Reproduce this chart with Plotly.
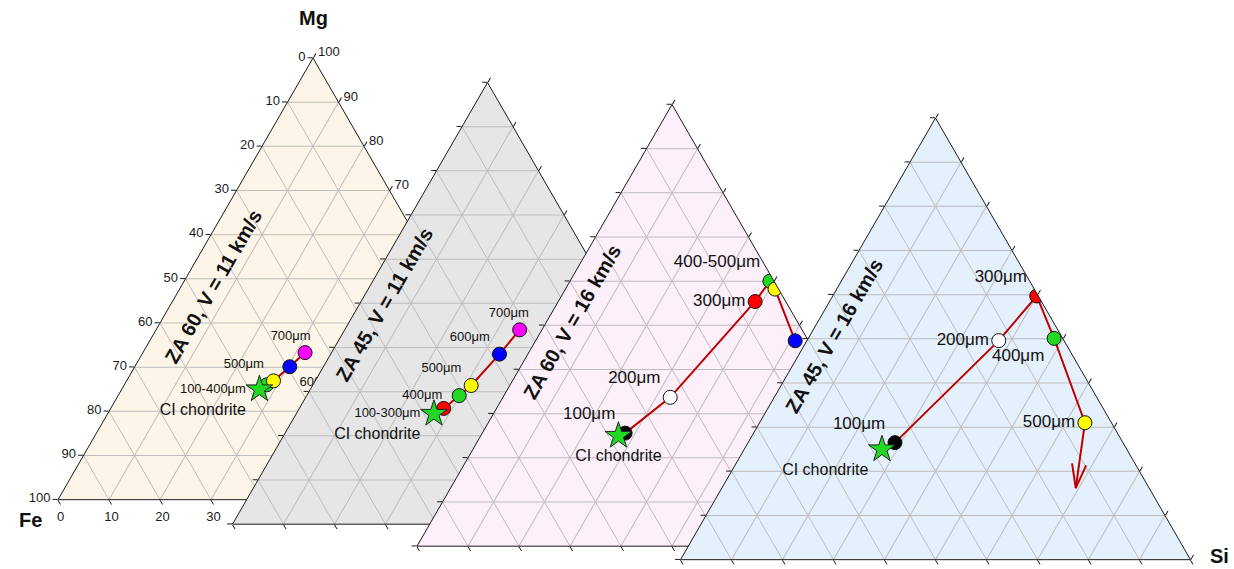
import math
import plotly.graph_objects as go

# ---------------------------------------------------------------- data
# Composition of the melt residue (wt% Mg, Fe, Si) versus particle size
ci_mg, ci_fe, ci_si = 25.0, 48.0, 27.0          # CI chondrite reference

panel_titles = ["ZA 60, V = 11 km/s", "ZA 45, V = 11 km/s",
                "ZA 60, V = 16 km/s", "ZA 45, V = 16 km/s"]

# ZA 60, V = 11 km/s  (100-400 µm particles stay next to CI)
p1_cluster = "100-400μm"
p1_sizes = [400, 500, 600, 700]
p1_labels = ["", "500μm", "600μm", "700μm"]
p1_mg = [26.0, 26.9, 30.1, 33.3]
p1_fe = [46.1, 44.3, 39.5, 34.9]
p1_si = [27.9, 28.8, 30.4, 31.8]

# ZA 45, V = 11 km/s  (100-300 µm particles stay next to CI)
p2_cluster = "100-300μm"
p2_sizes = [300, 400, 500, 600, 700]
p2_labels = ["", "400μm", "500μm", "600μm", "700μm"]
p2_mg = [26.2, 29.1, 31.4, 38.5, 44.0]
p2_fe = [45.5, 41.0, 37.5, 28.4, 21.7]
p2_si = [28.3, 29.9, 31.1, 33.1, 34.3]

# ZA 60, V = 16 km/s
p3_cluster = ""
p3_sizes = [100, 200, 300, 400, 500, 600]
p3_labels = ["100μm", "200μm", "300μm", "400-500μm", "", ""]
p3_mg = [25.6, 33.7, 55.4, 60.0, 58.2, 46.5]
p3_fe = [46.4, 33.5, 6.0, 0.8, 0.7, 2.6]
p3_si = [28.0, 32.8, 38.6, 39.2, 41.1, 50.9]

# ZA 45, V = 16 km/s
p4_cluster = ""
p4_sizes = [100, 200, 300, 400, 500]
p4_labels = ["100μm", "200μm", "300μm", "400μm", "500μm"]
p4_mg = [26.5, 49.6, 59.7, 50.1, 31.0]
p4_fe = [44.7, 12.8, 0.3, 1.7, 5.2]
p4_si = [28.8, 37.6, 40.0, 48.2, 63.8]
p4_trend_mg, p4_trend_fe, p4_trend_si = 16.2, 14.4, 69.4   # trend arrow tip

tick_vals = list(range(0, 101, 10))

# ---------------------------------------------------------------- style
FONT = "Liberation Sans, Arial, Helvetica, sans-serif"
EDGE = "#1a1a1a"
GRID = "#bdbdbd"
PATH_RED = "#c00000"
STAR_GREEN = "#22d822"
size_colors = {100: "#000000", 200: "#ffffff", 300: "#ff0000", 400: "#22d822",
               500: "#ffff00", 600: "#0000ff", 700: "#ff00ff"}
backgrounds = ["#fdf6e8", "#e6e6e6", "#fdf0fa", "#e4f0fb"]
label_sizes = [13, 13, 17, 17]
NB = "\u00a0"

# label placement around each marker
p1_pos = ["middle left", "top left", "bottom right", "top center"]
p2_pos = ["middle left", "middle left", "top left", "top left", "top center"]
p3_pos = ["top left", "top left", "middle left", "top left", "top left", "top left"]
p4_pos = ["top left", "middle left", "top left", "bottom left", "middle left"]
star_pos = ["bottom left", "bottom left", "bottom center", "bottom left"]
label_pad = [{3: 8}, {1: 2, 4: 6}, {}, {}]   # trailing spacing (nbsp count)

# triangle placement in pixels (left, top) on a 1234 x 569 page
W, H = 1234, 569
SIDE = 510.0
HEIGHT = SIDE / (4.0 / 3.0) ** 0.5
anchors = [(58, 58), (232.5, 82.5), (417, 104.5), (680.5, 118)]

# arrow head: length (fraction of the triangle side) and half-angle
HEAD_LEN = 25 / SIDE
HEAD_ANGLE = math.radians(16.5)

panels = [
    dict(sizes=p1_sizes, labels=p1_labels, mg=p1_mg, fe=p1_fe, si=p1_si,
         pos=p1_pos, cluster=p1_cluster),
    dict(sizes=p2_sizes, labels=p2_labels, mg=p2_mg, fe=p2_fe, si=p2_si,
         pos=p2_pos, cluster=p2_cluster),
    dict(sizes=p3_sizes, labels=p3_labels, mg=p3_mg, fe=p3_fe, si=p3_si,
         pos=p3_pos, cluster=p3_cluster),
    dict(sizes=p4_sizes, labels=p4_labels, mg=p4_mg, fe=p4_fe, si=p4_si,
         pos=p4_pos, cluster=p4_cluster),
]

SQ3 = math.sqrt(3)


def to_xy(mg, fe, si):
    s = mg + fe + si
    return si / s + 0.5 * mg / s, SQ3 / 2 * mg / s


def to_ternary(x, y):
    mg = y / (SQ3 / 2)
    si = x - 0.5 * mg
    return 100 * mg, 100 * (1 - mg - si), 100 * si


def arrow_head(tail, tip):
    """Two barbs at `tip`, pointing back towards `tail` (compositions)."""
    tx, ty = to_xy(*tail)
    hx, hy = to_xy(*tip)
    dx, dy = tx - hx, ty - hy
    n = math.hypot(dx, dy)
    dx, dy = dx / n, dy / n
    pts = []
    for sgn in (1, -1):
        c, s = math.cos(sgn * HEAD_ANGLE), math.sin(sgn * HEAD_ANGLE)
        bx = hx + HEAD_LEN * (c * dx - s * dy)
        by = hy + HEAD_LEN * (s * dx + c * dy)
        pts.append(to_ternary(bx, by))
    return [pts[0], tip, pts[1]]


fig = go.Figure()


def ternary_axis(show_labels):
    return dict(
        tickmode="array",
        tickvals=tick_vals,
        ticktext=[str(100 - v) for v in tick_vals],
        showticklabels=show_labels,
        ticks="outside", ticklen=5, tickwidth=1, tickcolor=EDGE,
        tickfont=dict(family=FONT, size=13, color="#1a1a1a"),
        showline=True, linecolor=EDGE, linewidth=1,
        showgrid=True, gridcolor=GRID, gridwidth=1,
        title=dict(text=""),
        min=0,
    )


layout_ternaries = {}
for i, p in enumerate(panels):
    key = "ternary" if i == 0 else f"ternary{i + 1}"
    x0, y0 = anchors[i]
    layout_ternaries[key] = dict(
        sum=100,
        bgcolor=backgrounds[i],
        domain=dict(x=[x0 / W, (x0 + SIDE) / W],
                    y=[1 - (y0 + HEIGHT) / H, 1 - y0 / H]),
        aaxis=ternary_axis(i == 0),   # Mg (top)
        baxis=ternary_axis(i == 0),   # Fe (bottom left)
        caxis=ternary_axis(i == 0),   # Si (bottom right)
    )

    # evolution path with particle size
    fig.add_trace(go.Scatterternary(
        a=p["mg"], b=p["fe"], c=p["si"], subplot=key, mode="lines",
        line=dict(color=PATH_RED, width=2), hoverinfo="skip"))

    if i == 3:
        last = (p["mg"][-1], p["fe"][-1], p["si"][-1])
        tip = (p4_trend_mg, p4_trend_fe, p4_trend_si)
        fig.add_trace(go.Scatterternary(
            a=[last[0], tip[0]], b=[last[1], tip[1]], c=[last[2], tip[2]],
            subplot=key, mode="lines",
            line=dict(color=PATH_RED, width=2), hoverinfo="skip"))
        head = arrow_head(last, tip)
        fig.add_trace(go.Scatterternary(
            a=[q[0] for q in head], b=[q[1] for q in head], c=[q[2] for q in head],
            subplot=key, mode="lines",
            line=dict(color=PATH_RED, width=2), hoverinfo="skip"))

    texts = [lab + NB * label_pad[i].get(k, 0) if lab else ""
             for k, lab in enumerate(p["labels"])]
    fig.add_trace(go.Scatterternary(
        a=p["mg"], b=p["fe"], c=p["si"], subplot=key, mode="markers+text",
        text=texts, textposition=p["pos"],
        textfont=dict(family=FONT, size=label_sizes[i], color="#111111"),
        marker=dict(size=14, color=[size_colors[s] for s in p["sizes"]],
                    line=dict(color="#111111", width=1)),
        hoverinfo="skip"))

    # size range whose compositions coincide with CI
    if p["cluster"]:
        fig.add_trace(go.Scatterternary(
            a=[ci_mg], b=[ci_fe], c=[ci_si], subplot=key, mode="markers+text",
            text=[p["cluster"]], textposition="middle left",
            textfont=dict(family=FONT, size=label_sizes[i], color="#111111"),
            marker=dict(size=20, opacity=0), hoverinfo="skip"))

    fig.add_trace(go.Scatterternary(
        a=[ci_mg], b=[ci_fe], c=[ci_si], subplot=key, mode="markers+text",
        text=["CI chondrite"], textposition=star_pos[i],
        textfont=dict(family=FONT, size=16, color="#111111"),
        marker=dict(symbol="star", size=20, color=STAR_GREEN,
                    line=dict(color="#222222", width=1)),
        hoverinfo="skip"))

# rotated panel captions along the left edges
caption_centers = [(213, 287), (384, 305), (572, 322), (834, 336)]
annotations = []
for (cx, cy), title in zip(caption_centers, panel_titles):
    annotations.append(dict(
        x=cx / W, y=1 - cy / H, xref="paper", yref="paper",
        text=f"<b>{title}</b>", showarrow=False, textangle=-60,
        font=dict(family=FONT, size=20, color="#111111"),
        xanchor="center", yanchor="middle"))

# element names at the apexes
for name, (px, py) in [("Mg", (313, 18)), ("Fe", (30, 520)), ("Si", (1219, 556))]:
    annotations.append(dict(
        x=px / W, y=1 - py / H, xref="paper", yref="paper",
        text=f"<b>{name}</b>", showarrow=False,
        font=dict(family=FONT, size=20, color="#111111"),
        xanchor="center", yanchor="middle"))

fig.update_layout(
    width=W, height=H,
    margin=dict(l=0, r=0, t=0, b=0),
    paper_bgcolor="white",
    showlegend=False,
    annotations=annotations,
    **layout_ternaries,
)

fig.write_html("out.html")
